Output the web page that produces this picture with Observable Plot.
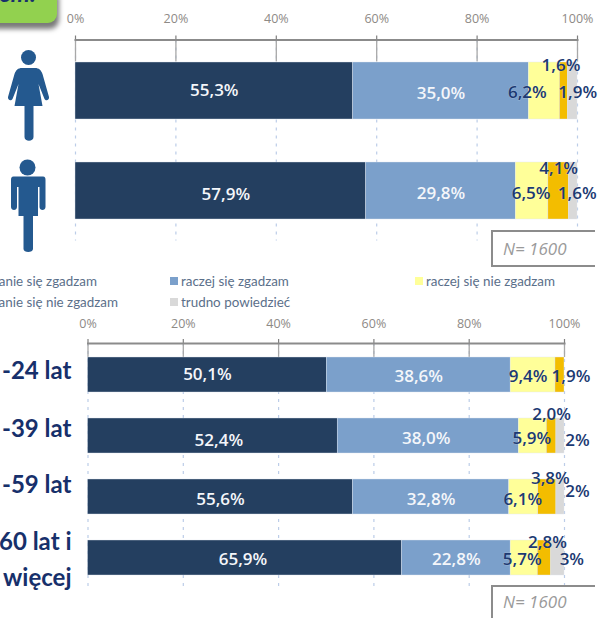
<!DOCTYPE html>
<html lang="pl"><head><meta charset="utf-8">
<script src="https://cdn.jsdelivr.net/npm/d3@7"></script>
<script src="https://cdn.jsdelivr.net/npm/@observablehq/plot@0.6"></script>
<style>
html,body{margin:0;padding:0;background:#fff}
#page{position:relative;width:598px;height:618px;overflow:hidden;font-family:"Open Sans",sans-serif}
#page svg{position:absolute;left:0;background:transparent;overflow:visible}
.abs{position:absolute;white-space:nowrap}
.leg{font:13.4px/16px Lato,sans-serif;color:#5b6f8a}
.sw{position:absolute;width:8px;height:8px}
.nbox{position:absolute;left:491px;width:104px;background:#fff;box-sizing:border-box;border:2px solid #8c8c8c;border-right:none;z-index:3}
.ntext{position:absolute;left:10px;font:italic 17px/18px "Open Sans",sans-serif;color:#9a9a9a}
.tab{position:absolute;left:-10px;top:-10px;width:67px;height:33px;background:#92d14f;border-radius:0 0 9px 0;box-shadow:2px 6px 5px #7a7a7a;overflow:hidden}
.tabtext{position:absolute;left:9px;top:-11px;font:italic 700 24px/28px Lato,sans-serif;color:#17306b}
</style></head><body><div id="page"></div>
<script>
const answers = ["zdecydowanie się zgadzam","raczej się zgadzam","raczej się nie zgadzam","zdecydowanie się nie zgadzam","trudno powiedzieć"];
const colors = ["#243f60","#7ba0cb","#ffff99","#f3bd00","#d9d9d9"];
const sexGroups = ["kobiety","mężczyźni"];
const sexValues = [[55.3,35.0,6.2,1.6,1.9],[57.9,29.8,6.5,4.1,1.6]];
const sexLabels = [["55,3%","35,0%","6,2%","1,6%","1,9%"],["57,9%","29,8%","6,5%","4,1%","1,6%"]];
const ageGroups = ["-24 lat","-39 lat","-59 lat","60 lat i\nwięcej"];
const ageValues = [[50.1,38.6,9.4,1.9,0],[52.4,38.0,5.9,2.0,2],[55.6,32.8,6.1,3.8,2],[65.9,22.8,5.7,2.8,3]];
const ageLabels = [["50,1%","38,6%","9,4%","1,9%",""],["52,4%","38,0%","5,9%","2,0%","2%"],["55,6%","32,8%","6,1%","3,8%","2%"],["65,9%","22,8%","5,7%","2,8%","3%"]];
const tickValues = [0,20,40,60,80,100];
// hand placement of the value labels, as in the reference [dx, dy]
const sexNudge = [[[0,0],[0,3],[-17,2],[-3,-25],[5,2]],[[5,4],[0,3],[-1,3],[0,-22],[4,3]]];
const ageNudge = [[[0,0],[0,2],[-5,2],[11,2],[0,0]],[[6,5],[-2,3],[-1,3],[0,-21],[17,5]],[[0,3],[0,3],[-1,3],[3,-18],[17,-5]],[[-2,2],[0,2],[-2,2],[3,-15],[14,2]]];
const ageTitleDy = [-8,-11,-16,-2];

function flat(groups, values, labels){
  const out=[];
  groups.forEach((g,i)=>{
    let cum=0;
    values[i].forEach((v,j)=>{
      const a=cum; cum+=v;
      const b=j===values[i].length-1?100:Math.min(cum,100);
      out.push({group:g,answer:answers[j],a,b,label:labels[i][j],row:i,col:j});
    });
  });
  return out;
}
function chart(groups, values, labels, nudge, opts){
  const rows=flat(groups,values,labels);
  const marks=[
    Plot.gridX(tickValues,{stroke:"#bccde8",strokeOpacity:1,strokeWidth:1.2,strokeDasharray:"3 5"}),
    Plot.axisX(tickValues,{anchor:"top",tickSize:-opts.inner,stroke:"#a8a8a8",strokeWidth:1.3,tickFormat:()=>null,textStroke:"none"}),
    Plot.barX(rows,{x1:"a",x2:"b",y:"group",fill:"answer",stroke:"#dfe6f0",strokeWidth:.4}),
    Plot.axisX(tickValues,{anchor:"top",tickSize:5,tickPadding:opts.pad,stroke:"#7f7f7f",strokeWidth:1.2,tickFormat:d=>d+"%",fill:"#8e8a86",fontSize:12.5,fontFamily:"Open Sans"}),
    Plot.frame({anchor:"top",stroke:"#8b8b8b",strokeWidth:2})
  ];
  rows.filter(d=>d.label).forEach(d=>{
    const [dx,dy]=nudge[d.row][d.col];
    marks.push(Plot.text([d],{x:e=>(e.a+e.b)/2,y:"group",text:"label",dx,dy,
      fill:d.col<2?"#f4f6fa":"#1c3a72",fontSize:17,fontWeight:600,fontFamily:"Open Sans",
      stroke:d.col<2?"none":"#ffffff",strokeOpacity:.25,strokeWidth:1}));
  });
  if(opts.titles) groups.forEach((g,i)=>{
    marks.push(Plot.text([g],{frameAnchor:"left",y:d=>d,text:d=>d,dx:-16.5,dy:opts.titles[i],textAnchor:"end",
      fill:"#17306b",fontSize:opts.titleSize,fontWeight:700,fontFamily:"Lato",lineHeight:1.5}));
  });
  const svg=Plot.plot({
    width:598,height:opts.height,marginLeft:opts.left,marginRight:598-opts.right,marginTop:opts.top,marginBottom:opts.height-opts.top-opts.len,
    x:{domain:[0,100],axis:null},
    y:{domain:groups,axis:null,paddingInner:.43,paddingOuter:.215},
    color:{domain:answers,range:colors},
    style:{background:"transparent",overflow:"visible"},
    marks
  });
  svg.style.top=opts.y+"px";
  return svg;
}
const page=document.getElementById("page");
page.append(chart(sexGroups,sexValues,sexLabels,sexNudge,{y:0,height:250,top:39.5,len:201,left:75,right:577,inner:21,pad:12}));
page.append(chart(ageGroups,ageValues,ageLabels,ageNudge,{y:300,height:318,top:43,len:245,left:87.5,right:564,inner:13,pad:11,titles:ageTitleDy,titleSize:24}));

// decoration: header tab, pictograms, legend, sample box
page.insertAdjacentHTML("beforeend",`
<div class="tab"><div class="tabtext">em:</div></div>
<svg width="80" height="262" style="top:0" aria-hidden="true"><g fill="#24598f">
<circle cx="28.5" cy="57.500" r="7.500"/>
<path d="M22 68h13c4 0 6 2 7.500 6l6.500 23c.6 3-3 4.500-4.500 2l-6-15 4 22H33.500v31c0 5-9 5-9 0v-31H14.500l4-22-6 15c-1.500 2.500-5 1-4.500-2l6.500-23c1.500-4 3.500-6 7.500-6z"/>
<circle cx="27.500" cy="167.500" r="8"/>
<path d="M12 176.500h31c2 0 2.500 1.500 2.500 3.500v27c0 4-6 4-6 0v-20h-1.500v29h-5v33c0 4-9.500 4-9.500 0v-33h-5v-29h-1.500v20c0 4-6 4-6 0v-27c0-2 .5-3.500 2.500-3.500z"/>
</g></svg>`);

const legend=[
 {text:"anie się zgadzam",right:97,top:273,col:0},
 {text:"anie się nie zgadzam",right:118,top:294,col:3},
 {text:"raczej się zgadzam",left:181,top:273,col:1,sw:170},
 {text:"trudno powiedzieć",left:181,top:294,col:4,sw:170},
 {text:"raczej się nie zgadzam",left:426,top:273,col:2,sw:415}
];
legend.forEach(l=>{
  const e=document.createElement("div"); e.className="abs leg"; e.textContent=l.text; e.style.top=l.top+"px";
  if(l.left!=null) e.style.left=l.left+"px"; else e.style.right=(598-l.right)+"px";
  page.append(e);
  if(l.sw!=null){const s=document.createElement("div"); s.className="sw"; s.style.left=l.sw+"px"; s.style.top=(l.top+4)+"px"; s.style.background=colors[l.col]; page.append(s);}
});
[[230,37,8],[585,40,6]].forEach(([t,h,ty])=>{
  const b=document.createElement("div"); b.className="nbox"; b.style.top=t+"px"; b.style.height=h+"px";
  const n=document.createElement("div"); n.className="ntext"; n.style.top=ty+"px"; n.textContent="N= 1600"; b.append(n); page.append(b);
});
</script></body></html>
